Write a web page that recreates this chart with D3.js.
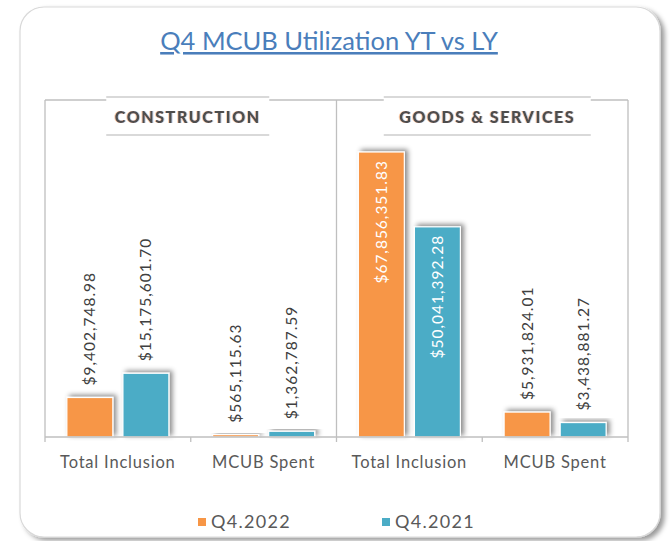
<!DOCTYPE html>
<html>
<head>
<meta charset="utf-8">
<script src="https://cdn.jsdelivr.net/npm/d3@7"></script>
<style>
  body { margin: 0; background: #fff; }
  text { font-family: Lato, "Open Sans", sans-serif; }
</style>
</head>
<body>
<svg id="chart" width="671" height="541"></svg>
<script>
// chart data
const groups = ["CONSTRUCTION", "GOODS & SERVICES"];
const categories = ["Total Inclusion", "MCUB Spent"];
const seriesNames = ["Q4.2022", "Q4.2021"];
const q4_2022 = [9402748.98, 565115.63, 67856351.83, 5931824.01];
const q4_2021 = [15175601.70, 1362787.59, 50041392.28, 3438881.27];
const colors = ["#F79646", "#4BACC6"];

const svg = d3.select("#chart");
const defs = svg.append("defs");

const cardShadow = defs.append("filter").attr("id", "cardShadow")
    .attr("x", "-5%").attr("y", "-5%").attr("width", "115%").attr("height", "115%");
cardShadow.append("feDropShadow").attr("dx", 4).attr("dy", 3).attr("stdDeviation", 2.5)
    .attr("flood-color", "#000").attr("flood-opacity", 0.4);

const barShadow = defs.append("filter").attr("id", "barShadow")
    .attr("x", "-30%").attr("y", "-30%").attr("width", "160%").attr("height", "160%");
barShadow.append("feDropShadow").attr("dx", 3).attr("dy", -2).attr("stdDeviation", 2.5)
    .attr("flood-color", "#000").attr("flood-opacity", 0.45);

// slight colour fringe on the header text
const glow = defs.append("filter").attr("id", "glow").attr("x", "-5%").attr("width", "110%");
glow.append("feDropShadow").attr("dx", -1).attr("dy", 0).attr("stdDeviation", 0.3)
    .attr("flood-color", "#F79646").attr("flood-opacity", 0.45).attr("result", "a");
glow.append("feDropShadow").attr("in", "a").attr("dx", 1).attr("dy", 0).attr("stdDeviation", 0.3)
    .attr("flood-color", "#4F81BD").attr("flood-opacity", 0.35);

// card
svg.append("rect")
    .attr("x", 20).attr("y", 7).attr("width", 640).attr("height", 530).attr("rx", 24)
    .attr("fill", "#fff").attr("stroke", "#d9d9d9").attr("stroke-width", 1.2)
    .attr("filter", "url(#cardShadow)");

// title
svg.append("text")
    .attr("x", 329).attr("y", 50).attr("text-anchor", "middle")
    .attr("font-size", 25.5).attr("fill", "#4A7EBB")
    .attr("text-decoration", "underline")
    .text("Q4 MCUB Utilization YT vs LY");

const plotLeft = 45, plotRight = 628, plotTop = 100, base = 437;

const x0 = d3.scaleBand().domain(groups).range([plotLeft, plotRight]);
const x1 = d3.scaleBand().domain(categories).range([0, x0.bandwidth()]);
const x2 = d3.scaleBand().domain(seriesNames).range([0, x1.bandwidth()])
    .paddingInner(0.18).paddingOuter(0.39);
const y = d3.scaleLinear().domain([0, 80000000]).range([base, 101]);

const fmt = v => "$" + d3.format(",.2f")(v);

const rows = [];
groups.forEach((g, gi) => {
    categories.forEach((c, ci) => {
        const i = gi * categories.length + ci;
        rows.push({group: g, cat: c, s: 0, value: q4_2022[i]});
        rows.push({group: g, cat: c, s: 1, value: q4_2021[i]});
    });
});
const barX = d => x0(d.group) + x1(d.cat) + x2(seriesNames[d.s]);

// frame
const frame = svg.append("g").attr("stroke", "#BFBFBF").attr("stroke-width", 1.3).attr("fill", "none");
frame.append("line").attr("x1", plotLeft).attr("x2", plotRight).attr("y1", plotTop).attr("y2", plotTop);
[plotLeft, x0(groups[1]), plotRight].forEach(xv => {
    frame.append("line").attr("x1", xv).attr("x2", xv).attr("y1", plotTop).attr("y2", base + 5);
});
groups.forEach(g => {
    const xv = x0(g) + x1(categories[1]);
    frame.append("line").attr("x1", xv).attr("x2", xv).attr("y1", base).attr("y2", base + 5);
});

// bars
svg.append("g").selectAll("rect")
    .data(rows).join("rect")
    .attr("x", barX)
    .attr("y", d => y(d.value))
    .attr("width", x2.bandwidth())
    .attr("height", d => base - y(d.value))
    .attr("fill", d => colors[d.s])
    .attr("stroke", "#fff").attr("stroke-width", 1.2)
    .attr("filter", "url(#barShadow)");

// baseline axis
svg.append("line").attr("x1", plotLeft).attr("x2", plotRight).attr("y1", base).attr("y2", base)
    .attr("stroke", "#BFBFBF").attr("stroke-width", 1.5);

// value labels
const labels = svg.append("g").selectAll("text")
    .data(rows).join("text")
    .attr("font-size", 15.5).attr("letter-spacing", 1)
    .text(d => fmt(d.value));
labels.each(function(d) {
    const len = this.getComputedTextLength();
    const cx = barX(d) + x2.bandwidth() / 2 + 5.5;
    const yt = y(d.value);
    const inside = yt - 12 - len < plotTop;
    d3.select(this)
        .attr("transform", `translate(${cx},${inside ? yt + 8 + len : yt - 12}) rotate(-90)`)
        .attr("fill", inside ? "#fff" : "#404040");
});

// category labels
groups.forEach(g => {
    categories.forEach(c => {
        svg.append("text")
            .attr("x", x0(g) + x1(c) + x1.bandwidth() / 2)
            .attr("y", 468).attr("text-anchor", "middle")
            .attr("font-size", 16.5).attr("letter-spacing", 0.8).attr("fill", "#595959")
            .text(c);
    });
});

// group header boxes
const headerW = [163, 207];
groups.forEach((g, gi) => {
    const cx = x0(g) + x0.bandwidth() / 2 + (gi === 0 ? -3 : 5);
    const hg = svg.append("g");
    hg.append("rect").attr("x", cx - headerW[gi] / 2).attr("y", 97)
        .attr("width", headerW[gi]).attr("height", 38).attr("fill", "#fff");
    [97, 135].forEach(yy => hg.append("line")
        .attr("x1", cx - headerW[gi] / 2).attr("x2", cx + headerW[gi] / 2)
        .attr("y1", yy).attr("y2", yy)
        .attr("stroke", "#D9D9D9").attr("stroke-width", 2));
    hg.append("text").attr("x", cx).attr("y", 123).attr("text-anchor", "middle")
        .attr("font-size", 16).attr("font-weight", "900").attr("letter-spacing", 1.6)
        .attr("fill", "#4d4d4d").attr("filter", "url(#glow)")
        .text(g);
});

// legend
const legendX = [198, 382];
seriesNames.forEach((s, i) => {
    svg.append("rect").attr("x", legendX[i]).attr("y", 518).attr("width", 8).attr("height", 8)
        .attr("fill", colors[i]);
    svg.append("text").attr("x", legendX[i] + 13).attr("y", 528)
        .attr("font-size", 18).attr("letter-spacing", 1.3).attr("fill", "#595959").text(s);
});
</script>
</body>
</html>
